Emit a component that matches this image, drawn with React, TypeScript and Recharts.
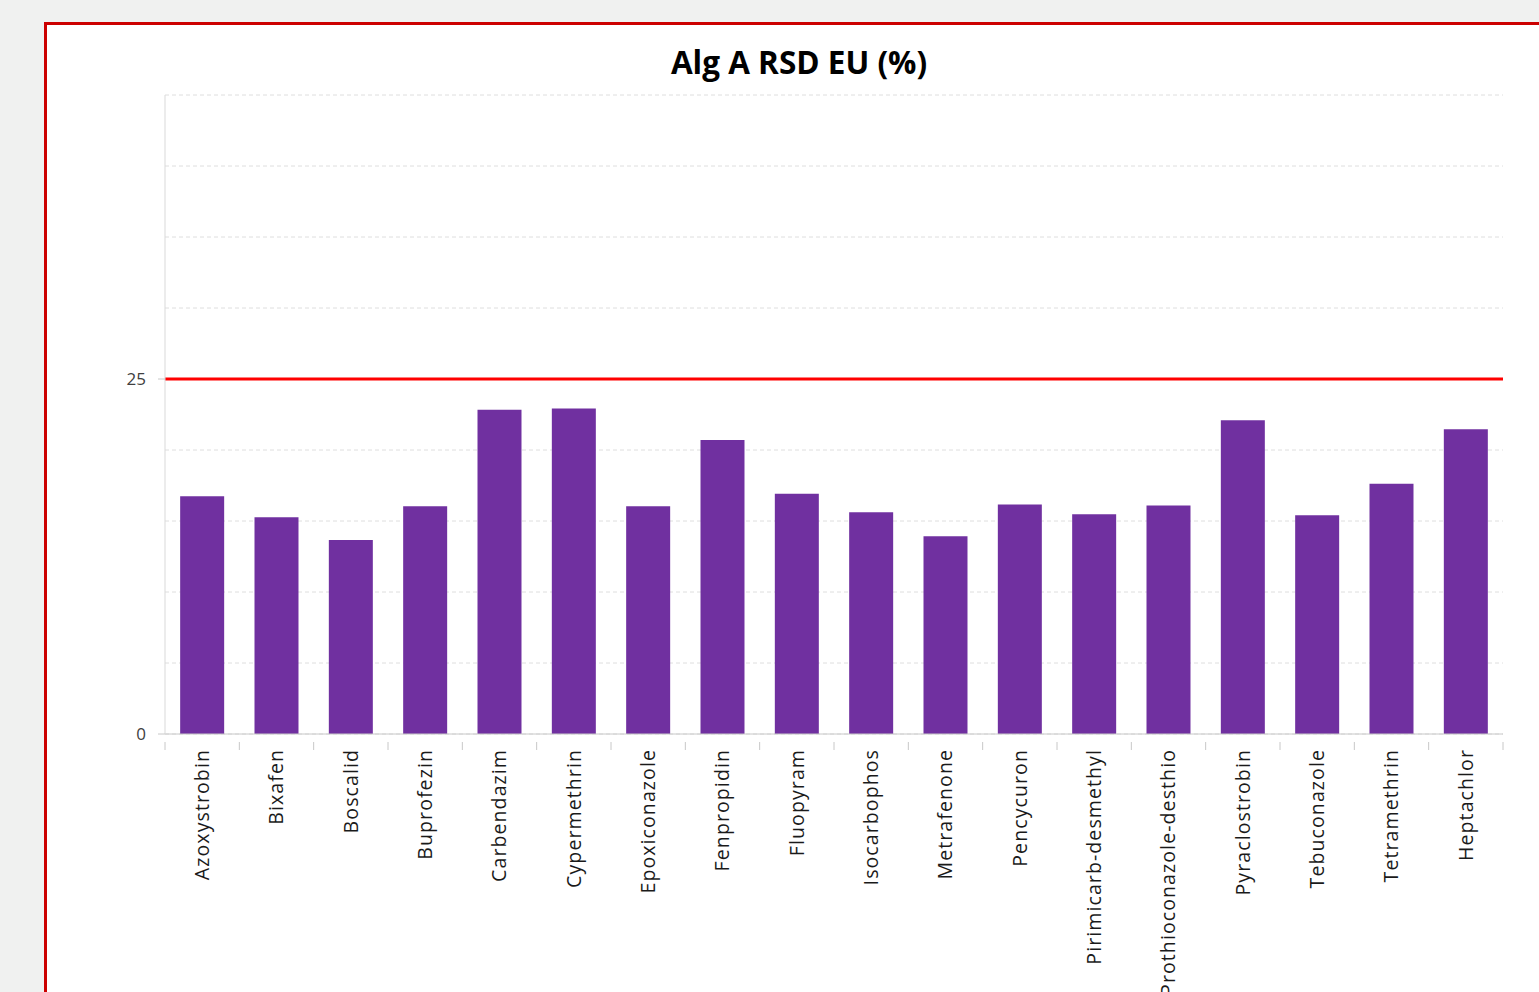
import React from 'react';
import { BarChart, Bar, XAxis, YAxis, CartesianGrid, ReferenceLine } from 'recharts';

const categories = [
  'Azoxystrobin', 'Bixafen', 'Boscalid', 'Buprofezin', 'Carbendazim', 'Cypermethrin',
  'Epoxiconazole', 'Fenpropidin', 'Fluopyram', 'Isocarbophos', 'Metrafenone', 'Pencycuron',
  'Pirimicarb-desmethyl', 'Prothioconazole-desthio', 'Pyraclostrobin', 'Tebuconazole',
  'Tetramethrin', 'Heptachlor',
];
const rsdValues = [
  16.74, 15.26, 13.66, 16.03, 22.84, 22.93, 16.03, 20.7, 16.92, 15.61, 13.92, 16.17,
  15.47, 16.1, 22.09, 15.4, 17.63, 21.46,
];
const yTicks = [0, 5, 10, 15, 20, 25, 30, 35, 40, 45];
const yLabelTicks = [0, 25];
const limit = 25;
const title = 'Alg A RSD EU (%)';

const data = categories.map((name, i) => ({ name, value: rsdValues[i] }));

const FONT = '"Open Sans", "DejaVu Sans", sans-serif';

const YTick = (props: any) => {
  const { x, y, payload } = props;
  if (!yLabelTicks.includes(payload.value)) return null;
  return (
    <g>
      <line x1={x + 1} x2={x + 8} y1={y} y2={y} stroke="#c8c8c8" strokeWidth={1} />
      <text x={x - 11} y={y} dy="0.35em" textAnchor="end" fontFamily={FONT} fontSize={17} fill="#404040">
        {payload.value}
      </text>
    </g>
  );
};

const XTick = (props: any) => {
  const { x, y, payload, width, visibleTicksCount, index } = props;
  const half = payload && payload.offset ? payload.offset : width / visibleTicksCount / 2;
  const isLast = index === visibleTicksCount - 1;
  const ty = y + 7;
  return (
    <g>
      <line x1={x - half} x2={x - half} y1={y} y2={y + 8} stroke="#c8c8c8" strokeWidth={1} />
      {isLast && <line x1={x + half} x2={x + half} y1={y} y2={y + 8} stroke="#c8c8c8" strokeWidth={1} />}
      <text
        x={x}
        y={ty}
        dy="0.35em"
        textAnchor="end"
        transform={`rotate(-90, ${x}, ${ty})`}
        fontFamily={FONT}
        fontSize={19.5}
        letterSpacing={1.1}
        fill="#1a1a1a"
      >
        {payload.value}
      </text>
    </g>
  );
};

export default function App() {
  return (
    <div
      style={{
        position: 'fixed',
        left: 0,
        top: 0,
        width: 1539,
        height: 992,
        background: '#f0f1f0',
        overflow: 'hidden',
      }}
    >
      <div
        style={{
          position: 'absolute',
          left: 44,
          top: 22,
          width: 1600,
          height: 1100,
          background: '#ffffff',
          borderLeft: '3px solid #cc0000',
          borderTop: '3px solid #cc0000',
        }}
      />
      <div
        style={{
          position: 'absolute',
          left: 499,
          top: 42,
          width: 600,
          textAlign: 'center',
          fontFamily: FONT,
          fontWeight: 700,
          fontSize: 31.5,
          lineHeight: '40px',
          color: '#000',
        }}
      >
        {title}
      </div>
      <div style={{ position: 'absolute', left: 0, top: 0 }}>
        <BarChart
          width={1539}
          height={992}
          data={data}
          margin={{ top: 95, right: 36, bottom: 0, left: 105 }}
          barCategoryGap="20.4%"
        >
          <CartesianGrid vertical={false} stroke="#dedede" strokeDasharray="4 3" />
          <XAxis
            dataKey="name"
            interval={0}
            height={258}
            axisLine={{ stroke: '#c8c8c8' }}
            tickLine={false}
            tick={<XTick />}
          />
          <YAxis
            domain={[0, 45]}
            ticks={yTicks}
            width={60}
            axisLine={{ stroke: '#d9d9d9' }}
            tickLine={false}
            tick={<YTick />}
            interval={0}
          />
          <Bar dataKey="value" fill="#7030a0" isAnimationActive={false} />
          <ReferenceLine y={limit} stroke="#ff0000" strokeWidth={3} />
        </BarChart>
      </div>
    </div>
  );
}
